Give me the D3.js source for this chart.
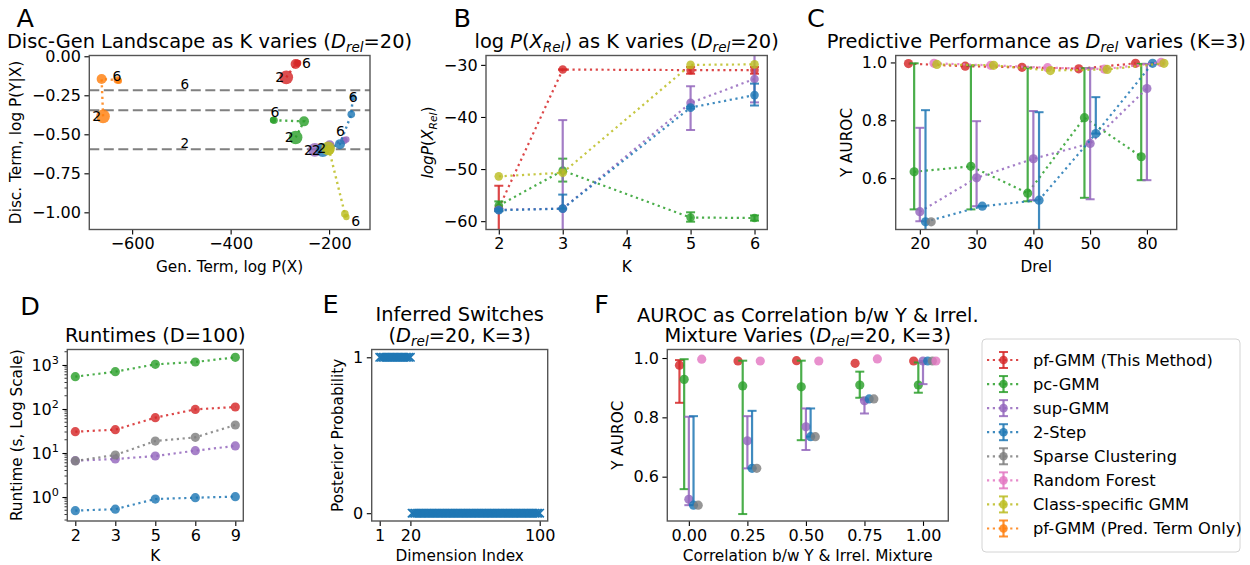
<!DOCTYPE html>
<html>
<head>
  <meta charset="utf-8">
  <style>
    body { margin: 0; background: #fff; }
    text { font-family: "DejaVu Sans", sans-serif; fill: #000; }
  </style>
</head>
<body>
  <script src="https://d3js.org/d3.v7.min.js"></script>
  <script>
    var W = 1250, H = 565;
    var svg = d3.select("body").append("svg").attr("width", W).attr("height", H);

    var FONT = "DejaVu Sans, sans-serif";
    var TICK = 16, LABEL = 15.3, TITLE = 19.4, LEGEND = 16.3, LETTER = 25.5;

    // methods and their colours (legend order)
    var methods = ["pf-GMM (This Method)", "pc-GMM", "sup-GMM", "2-Step", "Sparse Clustering",
                   "Random Forest", "Class-specific GMM", "pf-GMM (Pred. Term Only)"];
    var colors = ["#d62728", "#2ca02c", "#9467bd", "#1f77b4", "#7f7f7f", "#e377c2", "#bcbd22", "#ff7f0e"];

    // ---- A: disc-gen landscape, K = 2,3,5,6
    var landK = [2, 3, 5, 6];
    var landSeries = [0, 1, 2, 3, 6, 7];
    var landGen = [
      [-287, -268, -265, -263],
      [-268, -251, -312, -314],
      [-229, -199, -170, -165],
      [-213, -178, -155, -152],
      [-202, -200, -168, -165],
      [-659, -662, -630, -627]
    ];
    var landDisc = [
      [-0.135, -0.050, -0.045, -0.043],
      [-0.520, -0.417, -0.410, -0.408],
      [-0.600, -0.570, -0.540, -0.533],
      [-0.602, -0.563, -0.372, -0.262],
      [-0.590, -0.600, -1.010, -1.030],
      [-0.385, -0.146, -0.152, -0.157]
    ];
    var landLabel6 = [[-246, -0.043], [-310, -0.355], [-177, -0.477], [-151, -0.258], [-146, -1.054], [-631, -0.125]];
    var landRadius = [6.8, 5, 3.8, 3.2];
    var refLines = [-0.217, -0.346, -0.596];
    var refLabels = ["6", "", "2"];

    // ---- B: log P(X_rel), K = 2,3,5,6
    var bK = [2, 3, 5, 6];
    var bSeries = [0, 1, 2, 3, 6];
    var bMean = [
      [-57.5, -30.9, -31.0, -31.0],
      [-57.0, -50.3, -59.3, -59.4],
      [-57.8, -57.6, -37.3, -32.7],
      [-57.9, -57.6, -38.2, -35.8],
      [-51.4, -50.7, -30.0, -29.9]
    ];
    var bLo = [
      [-61.8, -30.9, -31.7, -31.7],
      [-58.0, -52.4, -60.1, -59.9],
      [-58.0, -74.6, -42.5, -37.2],
      [-58.1, -57.6, -38.4, -37.8],
      null
    ];
    var bHi = [
      [-53.2, -30.9, -30.4, -30.4],
      [-56.2, -48.0, -58.3, -58.9],
      [-57.6, -40.6, -34.1, -28.0],
      [-57.7, -54.9, -38.0, -33.6],
      null
    ];

    // ---- C: AUROC as D_rel varies
    var cCats = ["20", "30", "40", "50", "80"];
    var cSeries = [0, 1, 2, 3, 4, 5, 6];
    var cOffsets = [-0.2, -0.1, 0, 0.1, 0.2, 0.25, 0.3];
    var cMean = [
      [0.996, 0.987, 0.983, 0.978, 0.997],
      [0.622, 0.641, 0.548, 0.809, 0.674],
      [0.484, 0.601, 0.667, 0.720, 0.910],
      [0.449, 0.503, 0.524, 0.754, 0.997],
      [0.449, null, null, null, null],
      [0.997, 0.990, 0.982, 0.977, 1.000],
      [0.993, 0.990, 0.972, 0.976, 0.997]
    ];
    var cLo = [
      null,
      [0.492, 0.492, 0.520, 0.532, 0.593],
      [0.451, 0.503, 0.524, 0.527, 0.593],
      [0.063, 0.503, 0.220, 0.754, 0.997],
      null, null, null
    ];
    var cHi = [
      null,
      [0.997, 0.990, 0.982, 0.980, 0.995],
      [0.774, 0.797, 0.832, 0.980, 0.995],
      [0.835, 0.503, 0.828, 0.880, 0.997],
      null, null, null
    ];

    // ---- D: runtimes
    var dK = ["2", "3", "5", "6", "9"];
    var dSeries = [0, 1, 2, 3, 4];
    var dRuntime = [
      [30.5, 33.9, 63.5, 98, 111],
      [542, 705, 1035, 1170, 1494],
      [6.7, 7.3, 8.55, 11.3, 14.5],
      [0.49, 0.53, 0.90, 0.965, 1.02],
      [6.6, 9.0, 18.7, 22.7, 43.3]
    ];

    // ---- E: inferred switches, dimensions 1..100
    var switchProb = [
      1, 1, 1, 1, 1, 1, 1, 1, 1, 1, 1, 1, 1, 1, 1, 1, 1, 1, 1, 1,
      0, 0, 0, 0, 0, 0, 0, 0, 0, 0, 0, 0, 0, 0, 0, 0, 0, 0, 0, 0,
      0, 0, 0, 0, 0, 0, 0, 0, 0, 0, 0, 0, 0, 0, 0, 0, 0, 0, 0, 0,
      0, 0, 0, 0, 0, 0, 0, 0, 0, 0, 0, 0, 0, 0, 0, 0, 0, 0, 0, 0,
      0, 0, 0, 0, 0, 0, 0, 0, 0, 0, 0, 0, 0, 0, 0, 0, 0, 0, 0, 0
    ];

    // ---- F: AUROC as correlation varies
    var fCorr = [0, 0.25, 0.5, 0.75, 1.0];
    var fSeries = [0, 1, 2, 3, 4, 5];
    var fOffsets = [-0.04, -0.02, 0, 0.02, 0.04, 0.055];
    var fMean = [
      [0.976, 0.990, 0.991, 0.982, 0.990],
      [0.928, 0.906, 0.903, 0.909, 0.909],
      [0.524, 0.721, 0.768, 0.856, 0.990],
      [0.504, 0.628, 0.735, 0.862, 0.990],
      [0.504, 0.628, 0.735, 0.862, 0.990],
      [0.996, 0.990, 0.990, 0.997, 0.990]
    ];
    var fLo = [
      [0.849, 0.990, 0.991, 0.982, 0.990],
      [0.558, 0.474, 0.723, 0.866, 0.883],
      [0.504, 0.628, 0.690, 0.813, 0.912],
      [0.504, 0.628, 0.735, 0.862, 0.990],
      null, null
    ];
    var fHi = [
      [0.993, 0.990, 0.991, 0.982, 0.990],
      [0.996, 0.991, 0.991, 0.954, 0.985],
      [0.802, 0.804, 0.830, 0.860, 0.990],
      [0.804, 0.822, 0.830, 0.862, 0.990],
      null, null
    ];

    // ---------- helpers
    var clipN = 0;
    function panel(x0, y0, x1, y1) {
      var id = "clip" + (clipN++);
      svg.append("clipPath").attr("id", id).append("rect")
        .attr("x", x0).attr("y", y0).attr("width", x1 - x0).attr("height", y1 - y0);
      var g = svg.append("g");
      var plot = g.append("g").attr("clip-path", "url(#" + id + ")");
      return {x0: x0, y0: y0, x1: x1, y1: y1, g: g, plot: plot};
    }

    function styleAxis(a) {
      a.select(".domain").remove();
      a.selectAll(".tick line").attr("stroke", "#000").attr("stroke-width", 1.1);
      a.selectAll(".tick text").attr("font-family", FONT).attr("font-size", TICK).attr("fill", "#000");
    }

    function axes(p, x, y, xt, xf, yt, yf) {
      var ax = p.g.append("g").attr("transform", "translate(0," + p.y1 + ")")
        .call(d3.axisBottom(x).tickValues(xt).tickFormat(xf).tickSize(4.9).tickPadding(3.5));
      styleAxis(ax);
      var ay = p.g.append("g").attr("transform", "translate(" + p.x0 + ",0)")
        .call(d3.axisLeft(y).tickValues(yt).tickFormat(yf).tickSize(4.9).tickPadding(3.5));
      styleAxis(ay);
      return ay;
    }

    function frame(p) {
      p.g.append("rect").attr("x", p.x0).attr("y", p.y0)
        .attr("width", p.x1 - p.x0).attr("height", p.y1 - p.y0)
        .attr("fill", "none").attr("stroke", "#555").attr("stroke-width", 1.4);
    }

    // parts: strings or {t, i, sub, sup}
    function rich(sel, parts, size) {
      var shift = 0;
      parts.forEach(function(p) {
        var t = typeof p === "string" ? {t: p} : p;
        var ts = sel.append("tspan").text(t.t);
        var target = t.sub ? size * 0.22 : t.sup ? -size * 0.42 : 0;
        if (target !== shift) { ts.attr("dy", target - shift); shift = target; }
        if (t.i) ts.attr("font-style", "italic");
        if (t.sub || t.sup) ts.attr("font-size", size * 0.7);
      });
      return sel;
    }

    function label(x, y, parts, size, opts) {
      opts = opts || {};
      var t = svg.append("text").attr("x", x).attr("y", y)
        .attr("font-size", size).attr("text-anchor", opts.anchor || "middle");
      if (opts.rotate) t.attr("transform", "rotate(-90," + x + "," + y + ")");
      if (opts.dy) t.attr("dy", opts.dy);
      return rich(t, parts, size);
    }

    function ytitle(x, cy, parts) { label(x, cy, parts, LABEL, {rotate: true, dy: "0.35em"}); }

    var dotted = "2.2,3.6";

    // one series with dotted line, error bars and markers
    function drawSeries(p, pts, color, r) {
      var g = p.plot.append("g");
      var valid = pts.filter(function(d) { return d.y != null; });
      g.append("path").datum(valid)
        .attr("d", d3.line().x(function(d) { return d.px; }).y(function(d) { return d.py; }))
        .attr("fill", "none").attr("stroke", color).attr("stroke-width", 2.2)
        .attr("stroke-dasharray", dotted).attr("opacity", 0.85);
      valid.forEach(function(d) {
        if (d.plo == null) return;
        g.append("line").attr("x1", d.px).attr("x2", d.px).attr("y1", d.plo).attr("y2", d.phi)
          .attr("stroke", color).attr("stroke-width", 2.2).attr("opacity", 0.85);
        [d.plo, d.phi].forEach(function(yy) {
          g.append("line").attr("x1", d.px - 4.5).attr("x2", d.px + 4.5).attr("y1", yy).attr("y2", yy)
            .attr("stroke", color).attr("stroke-width", 2).attr("opacity", 0.85);
        });
      });
      g.selectAll("circle").data(valid).join("circle")
        .attr("cx", function(d) { return d.px; }).attr("cy", function(d) { return d.py; })
        .attr("r", r).attr("fill", color).attr("opacity", 0.82);
    }

    var TOP0 = 55.5, TOP1 = 229.5, BOT0 = 349.5, BOT1 = 521;

    // ================= A
    (function() {
      var p = panel(89.3, TOP0, 370, TOP1);
      var x = d3.scaleLinear().domain([-687, -117]).range([p.x0, p.x1]);
      var y = d3.scaleLinear().domain([-1.11, 0.005]).range([p.y1, p.y0]);
      axes(p, x, y, [-600, -400, -200], d3.format("d"),
           [0, -0.25, -0.5, -0.75, -1.0], d3.format(".2f"));

      refLines.forEach(function(v, i) {
        p.plot.append("line").attr("x1", p.x0).attr("x2", p.x1).attr("y1", y(v)).attr("y2", y(v))
          .attr("stroke", "#808080").attr("stroke-width", 2).attr("stroke-dasharray", "10,4.5");
        if (refLabels[i]) p.g.append("text").attr("x", x(-493)).attr("y", y(v) - 1.5)
          .attr("text-anchor", "middle").attr("font-size", 13.5).text(refLabels[i]);
      });

      landSeries.forEach(function(m, s) {
        var pts = landK.map(function(k, j) {
          return {px: x(landGen[s][j]), py: y(landDisc[s][j]), y: landDisc[s][j]};
        });
        var g = p.plot.append("g");
        g.append("path").datum(pts)
          .attr("d", d3.line().x(function(d) { return d.px; }).y(function(d) { return d.py; }))
          .attr("fill", "none").attr("stroke", colors[m]).attr("stroke-width", 2.4)
          .attr("stroke-dasharray", dotted).attr("opacity", 0.85);
        g.selectAll("circle").data(pts).join("circle")
          .attr("cx", function(d) { return d.px; }).attr("cy", function(d) { return d.py; })
          .attr("r", function(d, j) { return landRadius[j]; })
          .attr("fill", colors[m]).attr("opacity", 0.82);
      });
      landSeries.forEach(function(m, s) {
        p.g.append("text").attr("x", x(landGen[s][0]) - 2).attr("y", y(landDisc[s][0]))
          .attr("dy", "0.36em").attr("text-anchor", "end").attr("font-size", 14).text(landK[0]);
        p.g.append("text").attr("x", x(landLabel6[s][0])).attr("y", y(landLabel6[s][1]))
          .attr("dy", "0.36em").attr("text-anchor", "middle").attr("font-size", 14).text(landK[3]);
      });
      frame(p);

      label(209.5, 47.5, ["Disc-Gen Landscape as K varies (", {t: "D", i: true}, {t: "rel", i: true, sub: true}, "=20)"], TITLE);
      ytitle(16, (p.y0 + p.y1) / 2, ["Disc. Term, log P(Y|X)"]);
      label((p.x0 + p.x1) / 2, 272, ["Gen. Term, log P(X)"], LABEL);
    })();

    // ================= B
    (function() {
      var p = panel(486, TOP0, 767.3, TOP1);
      var x = d3.scaleLinear().domain([1.8, 6.2]).range([p.x0, p.x1]);
      var y = d3.scaleLinear().domain([-61.6, -28.2]).range([p.y1, p.y0]);
      axes(p, x, y, [2, 3, 4, 5, 6], d3.format("d"), [-30, -40, -50, -60], d3.format("d"));
      bSeries.forEach(function(m, s) {
        var pts = bK.map(function(k, j) {
          return {px: x(k), py: y(bMean[s][j]), y: bMean[s][j],
                  plo: bLo[s] ? y(bLo[s][j]) : null, phi: bHi[s] ? y(bHi[s][j]) : null};
        });
        drawSeries(p, pts, colors[m], 4.3);
      });
      frame(p);
      label((p.x0 + p.x1) / 2, 47.5, ["log ", {t: "P", i: true}, "(", {t: "X", i: true},
            {t: "Rel", i: true, sub: true}, ")", " as K varies (", {t: "D", i: true},
            {t: "rel", i: true, sub: true}, "=20)"], TITLE);
      ytitle(428, (p.y0 + p.y1) / 2, [{t: "logP", i: true}, "(", {t: "X", i: true}, {t: "Rel", i: true, sub: true}, ")"]);
      label((p.x0 + p.x1) / 2, 272, ["K"], LABEL);
    })();

    // ================= C
    (function() {
      var p = panel(895.7, TOP0, 1176.7, TOP1);
      var x = d3.scaleLinear().domain([-0.425, 4.525]).range([p.x0, p.x1]);
      var y = d3.scaleLinear().domain([0.4225, 1.024]).range([p.y1, p.y0]);
      axes(p, x, y, [0, 1, 2, 3, 4], function(d) { return cCats[d]; },
           [0.6, 0.8, 1.0], d3.format(".1f"));
      cSeries.forEach(function(m, s) {
        var pts = cCats.map(function(c, j) {
          var v = cMean[s][j];
          return {px: x(j + cOffsets[s]), py: v == null ? null : y(v), y: v,
                  plo: cLo[s] ? y(cLo[s][j]) : null, phi: cHi[s] ? y(cHi[s][j]) : null};
        });
        drawSeries(p, pts, colors[m], 4.6);
      });
      frame(p);
      label((p.x0 + p.x1) / 2, 47.5, ["Predictive Performance as ", {t: "D", i: true},
            {t: "rel", i: true, sub: true}, " varies (K=3)"], TITLE);
      ytitle(846.7, (p.y0 + p.y1) / 2, ["Y AUROC"]);
      label((p.x0 + p.x1) / 2, 272, ["Drel"], LABEL);
    })();

    // ================= D
    (function() {
      var p = panel(67.3, BOT0, 243.3, BOT1);
      var x = d3.scaleLinear().domain([-0.2, 4.2]).range([p.x0, p.x1]);
      var y = d3.scaleLog().domain([Math.pow(10, -0.545), Math.pow(10, 3.352)]).range([p.y1, p.y0]);
      var ay = axes(p, x, y, [0, 1, 2, 3, 4], function(d) { return dK[d]; },
                    [1, 10, 100, 1000], function(d) { return d; });
      ay.selectAll(".tick text").each(function(d) {
        var t = d3.select(this).text("");
        rich(t, ["10", {t: String(Math.round(Math.log10(d))), sup: true}], TICK);
      });
      // minor ticks
      var minors = [];
      [0.1, 1, 10, 100, 1000].forEach(function(dec) {
        for (var k = 2; k <= 9; k++) {
          var v = dec * k;
          if (v >= y.domain()[0] && v <= y.domain()[1]) minors.push(v);
        }
      });
      p.g.selectAll(".minor").data(minors).join("line")
        .attr("x1", p.x0 - 2.8).attr("x2", p.x0).attr("y1", function(d) { return y(d); })
        .attr("y2", function(d) { return y(d); }).attr("stroke", "#000").attr("stroke-width", 0.8);
      dSeries.forEach(function(m, s) {
        var pts = dK.map(function(k, j) {
          return {px: x(j), py: y(dRuntime[s][j]), y: dRuntime[s][j], plo: null, phi: null};
        });
        drawSeries(p, pts, colors[m], 4.6);
      });
      frame(p);
      label((p.x0 + p.x1) / 2, 341.7, ["Runtimes (D=100)"], TITLE);
      ytitle(16.7, (p.y0 + p.y1) / 2, ["Runtime (s, Log Scale)"]);
      label((p.x0 + p.x1) / 2, 561, ["K"], LABEL);
    })();

    // ================= E
    (function() {
      var p = panel(371.7, BOT0, 547.7, BOT1);
      var x = d3.scaleLinear().domain([-3.95, 104.95]).range([p.x0, p.x1]);
      var y = d3.scaleLinear().domain([-0.05, 1.05]).range([p.y1, p.y0]);
      axes(p, x, y, [1, 20, 100], d3.format("d"), [0, 1], d3.format("d"));
      var pts = switchProb.map(function(v, i) { return {d: i + 1, v: v}; });
      p.plot.selectAll("path.xm").data(pts).join("path")
        .attr("transform", function(d) { return "translate(" + x(d.d) + "," + y(d.v) + ")"; })
        .attr("d", "M-4.2,-4.2L4.2,4.2M-4.2,4.2L4.2,-4.2")
        .attr("stroke", colors[3]).attr("stroke-width", 1.5).attr("fill", "none");
      frame(p);
      label((p.x0 + p.x1) / 2, 320.7, ["Inferred Switches"], TITLE);
      label((p.x0 + p.x1) / 2, 341.5, ["(", {t: "D", i: true}, {t: "rel", i: true, sub: true}, "=20, K=3)"], TITLE);
      ytitle(338, (p.y0 + p.y1) / 2, ["Posterior Probability"]);
      label((p.x0 + p.x1) / 2, 561, ["Dimension Index"], LABEL);
    })();

    // ================= F
    (function() {
      var p = panel(667.3, BOT0, 948.3, BOT1);
      var x = d3.scaleLinear().domain([-0.092, 1.108]).range([p.x0, p.x1]);
      var y = d3.scaleLinear().domain([0.4506, 1.0287]).range([p.y1, p.y0]);
      axes(p, x, y, [0, 0.25, 0.5, 0.75, 1.0], d3.format(".2f"), [0.6, 0.8, 1.0], d3.format(".1f"));
      fSeries.forEach(function(m, s) {
        var pts = fCorr.map(function(c, j) {
          return {px: x(c + fOffsets[s]), py: y(fMean[s][j]), y: fMean[s][j],
                  plo: fLo[s] ? y(fLo[s][j]) : null, phi: fHi[s] ? y(fHi[s][j]) : null};
        });
        // no connecting line in F
        var g = p.plot.append("g");
        pts.forEach(function(d) {
          if (d.plo == null || Math.abs(d.plo - d.phi) < 0.5) return;
          g.append("line").attr("x1", d.px).attr("x2", d.px).attr("y1", d.plo).attr("y2", d.phi)
            .attr("stroke", colors[m]).attr("stroke-width", 2.2).attr("opacity", 0.85);
          [d.plo, d.phi].forEach(function(yy) {
            g.append("line").attr("x1", d.px - 4.5).attr("x2", d.px + 4.5).attr("y1", yy).attr("y2", yy)
              .attr("stroke", colors[m]).attr("stroke-width", 2).attr("opacity", 0.85);
          });
        });
        g.selectAll("circle").data(pts).join("circle")
          .attr("cx", function(d) { return d.px; }).attr("cy", function(d) { return d.py; })
          .attr("r", 4.6).attr("fill", colors[m]).attr("opacity", 0.82);
      });
      frame(p);
      var cx = (p.x0 + p.x1) / 2;
      label(cx, 321.7, ["AUROC as Correlation b/w Y & Irrel."], TITLE);
      label(cx, 341.7, ["Mixture Varies (", {t: "D", i: true}, {t: "rel", i: true, sub: true}, "=20, K=3)"], TITLE);
      ytitle(618, (p.y0 + p.y1) / 2, ["Y AUROC"]);
      label(cx, 561, ["Correlation b/w Y & Irrel. Mixture"], LABEL);
    })();

    // ================= legend
    (function() {
      var lg = svg.append("g");
      lg.append("rect").attr("x", 982).attr("y", 339).attr("width", 258).attr("height", 213)
        .attr("rx", 4).attr("fill", "#fff").attr("stroke", "#d4d4d4").attr("stroke-width", 1);
      methods.forEach(function(m, i) {
        var cy = 360 + i * 24.07, c = colors[i];
        lg.append("line").attr("x1", 987).attr("x2", 1020).attr("y1", cy).attr("y2", cy)
          .attr("stroke", c).attr("stroke-width", 2.2).attr("stroke-dasharray", dotted).attr("opacity", 0.85);
        lg.append("line").attr("x1", 1003.5).attr("x2", 1003.5).attr("y1", cy - 8).attr("y2", cy + 8)
          .attr("stroke", c).attr("stroke-width", 2.2).attr("opacity", 0.85);
        [cy - 8, cy + 8].forEach(function(yy) {
          lg.append("line").attr("x1", 999).attr("x2", 1008).attr("y1", yy).attr("y2", yy)
            .attr("stroke", c).attr("stroke-width", 2).attr("opacity", 0.85);
        });
        lg.append("circle").attr("cx", 1003.5).attr("cy", cy).attr("r", 4.3).attr("fill", c).attr("opacity", 0.82);
        lg.append("text").attr("x", 1033).attr("y", cy).attr("dy", "0.36em")
          .attr("font-size", LEGEND).text(m);
      });
    })();

    // panel letters
    [["A", 16.4, 26.7], ["B", 453.5, 26.7], ["C", 807, 26.7],
     ["D", 20.2, 314.5], ["E", 322.5, 313], ["F", 594.2, 313]].forEach(function(l) {
      svg.append("text").attr("x", l[1]).attr("y", l[2]).attr("font-size", LETTER).text(l[0]);
    });
  </script>
</body>
</html>
